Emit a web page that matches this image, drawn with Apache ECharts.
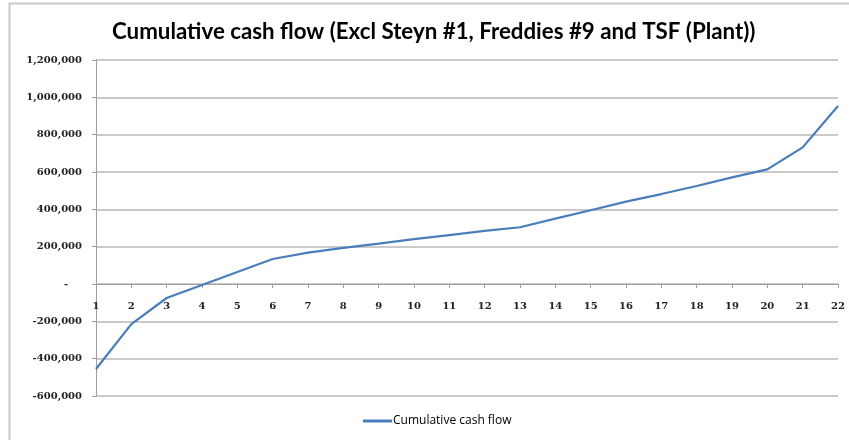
<!DOCTYPE html>
<html>
<head>
<meta charset="utf-8">
<script src="https://cdn.jsdelivr.net/npm/echarts@6/dist/echarts.min.js"></script>
<style>html,body{margin:0;padding:0;background:#fff}#c{width:849px;height:440px}</style>
</head>
<body>
<div id="c"></div>
<script>
const titleText = 'Cumulative cash flow (Excl Steyn #1, Freddies #9 and TSF (Plant))';
const seriesName = 'Cumulative cash flow';
const categories = ['1','2','3','4','5','6','7','8','9','10','11','12','13','14','15','16','17','18','19','20','21','22'];
const cashFlow = [-455000, -215000, -75000, -5000, 64000, 134000, 168000, 194000, 216000, 240000, 262000, 284000, 304000, 350000, 395000, 441000, 482000, 525000, 571000, 614000, 732000, 953000];
const yMin = -600000, yMax = 1200000, yStep = 200000;

const gridTop = 60, gridBottom = 44, chartH = 440;
const plotH = chartH - gridTop - gridBottom;
const zeroOffset = -plotH * (0 - yMin) / (yMax - yMin);

const chart = echarts.init(document.getElementById('c'), null, {renderer: 'canvas'});
function fmt(v){
  if (v === 0) return '-    ';
  return (v < 0 ? '-' : '') + Math.abs(v).toString().replace(/\B(?=(\d{3})+(?!\d))/g, ',');
}
chart.setOption({
  backgroundColor: '#fff',
  animation: false,
  graphic: [{
    type: 'rect', shape: {x: 9.5, y: 3.5, width: 900, height: 500},
    style: {fill: 'none', stroke: '#c8c8c8', lineWidth: 2}, silent: true
  }],
  title: {
    text: titleText, left: 107, top: 16,
    textStyle: {fontFamily: 'Lato', fontWeight: 'bold', fontSize: 22.3, color: '#000'}
  },
  legend: {
    bottom: 8, left: 358,
    data: [{name: seriesName, icon: 'rect'}],
    itemWidth: 29, itemHeight: 3,
    textStyle: {fontFamily: 'Open Sans', fontSize: 12, color: '#000', padding: [0,0,0,-4]}
  },
  grid: {left: 96, right: 11, top: gridTop, bottom: gridBottom, containLabel: false},
  xAxis: {
    type: 'category', data: categories, boundaryGap: false,
    position: 'bottom', offset: zeroOffset,
    axisLine: {onZero: false, lineStyle: {color: '#a0a0a0', width: 1}},
    axisTick: {show: true, inside: false, length: 4, alignWithLabel: true, lineStyle: {color: '#a0a0a0'}},
    axisLabel: {margin: 17, fontFamily: 'DejaVu Serif', fontWeight: 'bold', fontSize: 10, color: '#222'},
    splitLine: {show: false}
  },
  yAxis: {
    type: 'value', min: yMin, max: yMax, interval: yStep,
    axisLine: {show: true, lineStyle: {color: '#a0a0a0', width: 1}},
    axisTick: {show: true, length: 4, lineStyle: {color: '#a0a0a0'}},
    axisLabel: {margin: 14, formatter: fmt, fontFamily: 'DejaVu Serif', fontWeight: 'bold', fontSize: 10, color: '#222'},
    splitLine: {show: true, lineStyle: {color: '#b8b8b8', width: 1.5}}
  },
  series: [{
    name: seriesName, type: 'line', data: cashFlow,
    symbol: 'none', smooth: false,
    lineStyle: {color: '#4a7ebb', width: 2.25},
    itemStyle: {color: '#4a7ebb'}
  }]
});
</script>
</body>
</html>
